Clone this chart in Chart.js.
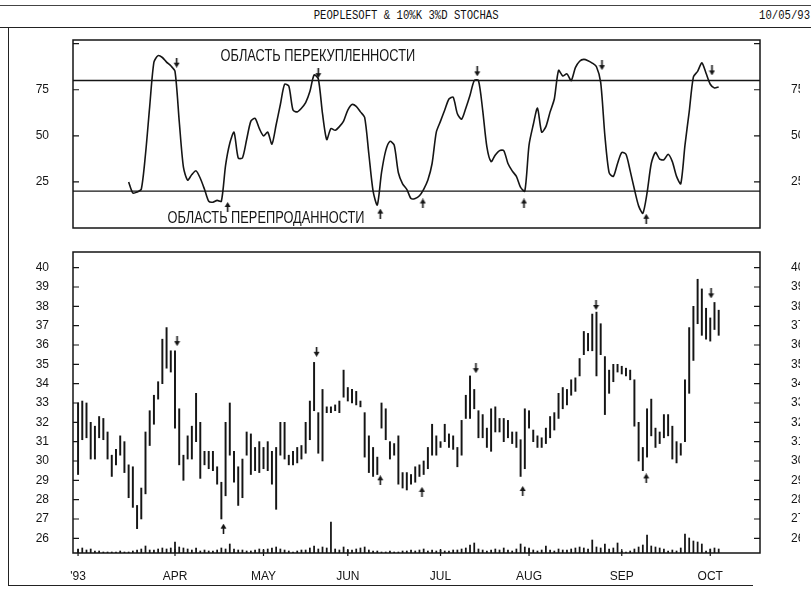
<!DOCTYPE html>
<html><head><meta charset="utf-8">
<script src="https://cdn.jsdelivr.net/npm/chart.js@4.4.1/dist/chart.umd.min.js"></script>
<style>
html,body{margin:0;padding:0;background:#fff;width:811px;height:590px;overflow:hidden;position:relative;}
body{font-family:'Liberation Sans',sans-serif;color:#111;}
#titlebar{position:absolute;left:0;top:5px;width:811px;height:21px;border-top:1px solid #444;border-bottom:1.5px solid #222;}
#title{position:absolute;left:0;width:811px;top:3px;text-align:center;font-family:'Liberation Mono',monospace;font-size:12.5px;transform:scaleX(0.85);transform-origin:410px 0;}
#date{position:absolute;right:1px;top:3px;font-family:'Liberation Mono',monospace;font-size:12.5px;transform:scaleX(0.85);transform-origin:100% 0;}
#frameL{position:absolute;left:8px;top:27px;height:558px;border-left:1.5px solid #222;}
#frameB{position:absolute;left:8px;top:585px;width:745px;border-top:1.5px solid #222;}
#c1wrap{position:absolute;left:0;top:0;width:800px;height:240px;}
#c2wrap{position:absolute;left:0;top:240px;width:800px;height:350px;}
</style></head>
<body>
<div id="titlebar"><div id="title">PEOPLESOFT &amp; 10%K 3%D STOCHAS</div><div id="date">10/05/93</div></div>
<div id="frameL"></div><div id="frameB"></div>
<div id="c1wrap"><canvas id="c1"></canvas></div>
<div id="c2wrap"><canvas id="c2"></canvas></div>
<script>
// ---------- DATA (trading-day index 0 = 1 Mar 1993 ... 152 = 5 Oct 1993) ----------
const monthLabels   = ["'93","APR","MAY","JUN","JUL","AUG","SEP","OCT"];
const monthStartIdx = [0, 23, 44, 64, 86, 107, 129, 150];

const priceHigh = [33.0,33.1,33.0,32.0,31.8,32.3,32.2,31.5,30.3,30.6,31.3,31.0,29.8,29.7,27.7,28.6,31.5,32.6,33.4,34.1,
36.3,36.9,35.7,35.7,32.7,30.3,31.3,31.8,33.5,32.0,30.5,30.5,30.5,29.7,28.9,32.0,33.0,30.5,29.7,30.1,
31.5,31.4,30.7,31.0,30.7,31.0,30.5,30.7,32.0,32.0,30.3,30.5,30.7,30.8,32.0,33.1,35.1,32.5,33.7,32.8,
32.8,32.9,33.1,34.7,33.8,33.7,33.6,33.1,32.5,31.3,30.7,30.2,33.0,32.7,31.0,30.9,31.3,29.4,29.4,29.3,
29.7,29.8,30.0,30.7,31.9,31.3,31.0,31.9,31.4,31.3,30.7,32.1,33.4,34.4,33.7,32.6,32.4,31.7,32.7,32.8,
32.2,32.2,32.1,31.5,31.5,31.1,32.7,32.6,31.6,31.3,31.2,31.7,32.3,32.5,33.5,33.8,33.7,34.2,34.3,35.3,
36.7,36.6,37.6,37.7,37.1,35.4,34.7,35.0,35.0,34.9,34.8,34.7,34.2,32.0,30.7,32.7,33.2,31.7,31.5,32.4,
32.4,31.8,31.0,30.9,34.2,36.9,38.0,39.4,38.9,37.9,37.4,38.2,37.8];
const priceLow = [29.3,31.1,31.2,30.1,30.1,31.2,31.1,30.1,29.2,29.8,30.3,29.4,28.1,27.6,26.5,27.0,28.3,30.8,31.9,33.2,
34.0,34.8,34.6,31.7,29.8,29.0,30.1,30.1,31.0,29.1,29.8,29.6,29.5,28.8,27.0,28.2,30.3,28.9,27.7,28.1,
30.3,29.3,29.5,29.4,29.6,29.5,28.8,27.5,30.3,30.1,29.8,29.8,29.9,30.1,30.4,31.1,32.6,30.4,30.0,32.5,
32.5,32.6,32.5,33.3,33.1,33.0,32.9,32.8,30.2,29.4,29.2,29.3,31.7,31.1,30.1,30.3,28.8,28.6,28.5,28.8,
28.9,29.2,29.3,29.6,30.3,30.3,30.7,31.0,30.7,30.6,29.7,30.3,32.2,32.2,32.7,31.2,31.2,30.7,30.5,31.5,
31.5,31.0,31.2,30.9,30.7,29.2,29.6,31.7,31.0,30.7,30.7,30.9,31.2,31.6,32.2,32.7,32.9,33.4,33.6,34.4,
35.5,35.7,35.7,34.4,35.5,32.4,33.5,34.1,34.6,34.5,34.4,34.2,31.8,30.0,29.5,30.2,31.3,30.7,30.9,31.2,
31.3,30.1,29.9,30.3,31.0,33.5,35.2,37.1,36.5,36.3,36.2,36.8,36.5];
const volume = [4,5,3,4,2,2,1,1,1,1,2,1,1,2,3,4,7,3,3,4,
5,4,5,11,6,5,4,3,5,2,3,2,2,3,5,4,9,4,3,3,
2,2,3,4,3,4,5,6,4,3,2,1,2,3,3,5,7,4,6,5,
31,4,3,6,3,3,4,5,6,3,2,2,1,1,2,1,1,2,2,3,
2,3,4,2,3,2,3,2,2,3,3,4,5,8,10,4,3,2,3,4,
3,5,3,2,4,9,6,5,3,2,3,7,3,2,4,3,3,4,5,6,
5,4,13,6,5,9,4,5,10,2,1,2,4,6,8,18,7,6,5,4,
2,3,2,5,19,15,12,11,9,2,4,5,4];
const stochK = [null,null,null,null,null,null,null,null,null,null,null,null,
25,19,19.5,21,40,66,90,93.5,92.5,90,88,85,58,33,26,29,31,27,
21,14.5,14,15,14.5,34,46,52,38,38,48,58,59.5,54,50,52,45.5,56,67,78,
77,64,63,65,68,74,83,81,62,48,54,53,55,58,64,67,66,63,60,40,
20,12.5,30,42,47,45,30,24,21,16,16,17.5,21,26,35,52,58,64,70,71,
62,59,65,72,80,80,64,44,36,39.6,42,42,35,31,28,22,20,45,56,65,
52,55,63,70,85.5,82.5,83.6,80,87,90.5,91.5,90.8,89.5,87.5,79,50,30,28,35,41,
40,31,21,12,8,19,35,41,37.4,37,40,36,28,24,45,63,82,85,89.6,84,
78,76,76.5];
const stochLevels = [80, 20];
const stochTicks = [25, 50, 75];
// signal arrows: [trading-day index, value]
const kDownIdx = [23.4, 57, 94.7, 124.3, 150.4], kDownVal = [89.7, 84, 85, 88.4, 85.5];
const kUpIdx   = [35.5, 71.7, 81.8, 105.8, 134.8], kUpVal = [11.4, 7.8, 13.3, 13.3, 5];
const pDownIdx = [23.5, 56.6, 94.4, 122.9, 150.2], pDownVal = [36.2, 35.65, 34.8, 38.07, 38.67];
const pUpIdx   = [34.5, 71.7, 81.6, 105.5, 134.8], pUpVal = [26.5, 29.0, 28.4, 28.45, 29.1];

// ---------- RENDERING ----------
const INK = '#151515';
const FONT = "'Liberation Sans', sans-serif";
Chart.defaults.font.family = FONT;
Chart.defaults.font.size = 12;
Chart.defaults.color = INK;
const xMin = -1.2, xMax = 161.8;

function arrowImg(down){
  const c = document.createElement('canvas'); c.width = 7; c.height = 10;
  const g = c.getContext('2d'); g.fillStyle = INK; g.strokeStyle = INK; g.lineWidth = 1.6;
  g.beginPath();
  if (down){ g.moveTo(3.5,0); g.lineTo(3.5,6); g.stroke(); g.beginPath(); g.moveTo(0.5,5); g.lineTo(6.5,5); g.lineTo(3.5,10); }
  else { g.moveTo(3.5,10); g.lineTo(3.5,4); g.stroke(); g.beginPath(); g.moveTo(0.5,5); g.lineTo(6.5,5); g.lineTo(3.5,0); }
  g.closePath(); g.fill();
  return c;
}
const downImg = arrowImg(true), upImg = arrowImg(false);
const zip = (xs, ys) => xs.map((x,i)=>({x:x, y:ys[i]}));
function arrowSet(xs, ys, img, axis){
  return {type:'scatter', data: zip(xs, ys), pointStyle: img, pointRadius: 5, yAxisID: axis, order: 0};
}
// fix axis box sizes; drop the vertical padding Chart.js adds for tick padding
function fixWidth(w){ return s => { s.width = w; s.paddingTop = 0; s.paddingBottom = 0; }; }

const framePlugin = {
  id: 'frame',
  afterDatasetsDraw(chart, args, opts){
    const {ctx, chartArea: a} = chart;
    ctx.save();
    ctx.strokeStyle = INK; ctx.lineWidth = 1.5;
    ctx.strokeRect(a.left, a.top, a.right - a.left, a.bottom - a.top);
    ctx.lineWidth = 1.2;
    const ys = chart.scales[opts.yAxis];
    ys.ticks.forEach(t => {
      if (t.value <= ys.min || t.value >= ys.max) return;
      const py = ys.getPixelForValue(t.value);
      ctx.beginPath();
      ctx.moveTo(a.left, py); ctx.lineTo(a.left + 6, py);
      ctx.moveTo(a.right - 6, py); ctx.lineTo(a.right, py);
      ctx.stroke();
    });
    const xs = chart.scales.x;
    if (opts.xTicks){
      xs.ticks.forEach(t => {
        const px = xs.getPixelForValue(t.value);
        ctx.beginPath(); ctx.moveTo(px, a.bottom - 4); ctx.lineTo(px, a.bottom + 3); ctx.stroke();
      });
    }
    if (opts.notes){
      ctx.fillStyle = INK; ctx.textAlign = 'center'; ctx.textBaseline = 'middle';
      ctx.font = "16px " + FONT;
      opts.notes.forEach(n => {
        ctx.save();
        ctx.translate(xs.getPixelForValue(n.x), ys.getPixelForValue(n.y));
        ctx.scale(0.8, 1);
        ctx.fillText(n.text, 0, 0);
        ctx.restore();
      });
    }
    ctx.restore();
  }
};

// ----- top panel: %K stochastic -----
new Chart(document.getElementById('c1'), {
  type: 'scatter',
  data: { datasets: [
    {type:'line', data: stochK.map((v,i)=>({x:i, y:v})).filter(p=>p.y!==null), borderColor: INK, borderWidth: 1.6,
     pointRadius: 0, tension: 0.25, yAxisID: 'y', order: 2},
    ...stochLevels.map(l => ({type:'line', data: [{x:xMin,y:l},{x:xMax,y:l}], borderColor: INK, borderWidth: 1.4,
     pointRadius: 0, yAxisID: 'y', order: 3})),
    arrowSet(kDownIdx, kDownVal, downImg, 'y'),
    arrowSet(kUpIdx, kUpVal, upImg, 'y')
  ]},
  options: {
    responsive: true, maintainAspectRatio: false, animation: false, events: [],
    layout: { padding: { top: 40, bottom: 12, left: 0, right: 0 } },
    plugins: { legend: {display:false}, tooltip: {enabled:false},
      frame: { yAxis: 'y', notes: [
        {text: 'ОБЛАСТЬ ПЕРЕКУПЛЕННОСТИ', x: 56.9, y: 93.1},
        {text: 'ОБЛАСТЬ ПЕРЕПРОДАННОСТИ', x: 44.6, y: 5.3}
      ]}},
    scales: {
      x: { type: 'linear', min: xMin, max: xMax, display: false, offset: false },
      y: { type: 'linear', position: 'left', min: 0, max: 102,
           afterBuildTicks: s => { s.ticks = [0,25,50,75,100].map(v=>({value:v})); },
           ticks: { padding: 16, callback: v => stochTicks.includes(v) ? String(v) : '' },
           grid: { display: false }, border: { display: false },
           afterFit: fixWidth(73) },
      y2: { type: 'linear', position: 'right', min: 0, max: 102,
           afterBuildTicks: s => { s.ticks = [0,25,50,75,100].map(v=>({value:v})); },
           ticks: { padding: 23, callback: v => stochTicks.includes(v) ? String(v) : '' },
           grid: { display: false }, border: { display: false },
           afterFit: fixWidth(40) }
    }
  },
  plugins: [framePlugin]
});

// ----- bottom panel: price bars + volume -----
const priceTicks = []; for (let v = 26; v <= 40; v++) priceTicks.push(v);
new Chart(document.getElementById('c2'), {
  type: 'bar',
  data: { datasets: [
    {type:'bar', data: priceHigh.map((h,i)=>({x:i, y:[priceLow[i], h]})), backgroundColor: INK,
     barThickness: 1.3, grouped: false, yAxisID: 'y', order: 2},
    {type:'bar', data: volume.map((v,i)=>({x:i, y:v})), backgroundColor: INK,
     barThickness: 1.1, grouped: false, yAxisID: 'vol', order: 3},
    arrowSet(pDownIdx, pDownVal, downImg, 'y'),
    arrowSet(pUpIdx, pUpVal, upImg, 'y')
  ]},
  options: {
    responsive: true, maintainAspectRatio: false, animation: false, events: [],
    layout: { padding: { top: 12, bottom: 0, left: 0, right: 0 } },
    plugins: { legend: {display:false}, tooltip: {enabled:false}, frame: { yAxis: 'y', xTicks: true } },
    scales: {
      x: { type: 'linear', min: xMin, max: xMax, offset: false,
           afterBuildTicks: s => { s.ticks = monthStartIdx.map(v=>({value:v})); },
           ticks: { padding: 8, autoSkip: false, maxRotation: 0, callback: (v, i) => monthLabels[i] },
           grid: { display: false }, border: { display: false },
           afterFit: s => { s.height = 37; } },
      y: { type: 'linear', position: 'left', min: 25.24, max: 40.81,
           afterBuildTicks: s => { s.ticks = priceTicks.map(v=>({value:v})); },
           ticks: { padding: 16 },
           grid: { display: false }, border: { display: false },
           afterFit: fixWidth(73) },
      y2: { type: 'linear', position: 'right', min: 25.24, max: 40.81,
           afterBuildTicks: s => { s.ticks = priceTicks.map(v=>({value:v})); },
           ticks: { padding: 23 },
           grid: { display: false }, border: { display: false },
           afterFit: fixWidth(40) },
      vol: { type: 'linear', display: false, min: 0, max: 301 }
    }
  },
  plugins: [framePlugin]
});
</script>
</body></html>
